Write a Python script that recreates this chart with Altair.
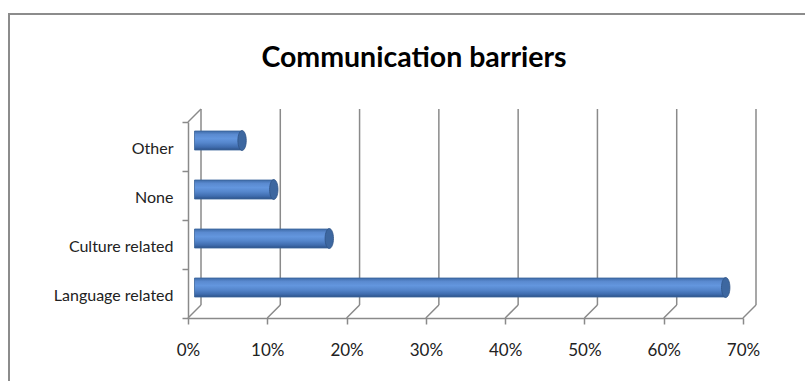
import altair as alt
import pandas as pd

# ---- data ----
categories = ["Other", "None", "Culture related", "Language related"]
shares = [0.06, 0.10, 0.17, 0.67]
tick_values = [0, 0.1, 0.2, 0.3, 0.4, 0.5, 0.6, 0.7]
title_text = "Communication barriers"

# ---- style ----
W, H = 555, 196
DX, DY = 13, -13
FONT = "Lato"
GRID = "#8a8a8a"
TXT = "#222222"

bars_df = pd.DataFrame({"category": categories, "share": shares})
ticks_df = pd.DataFrame({"v": tick_values})
one_df = pd.DataFrame({"v": [0]})

xscale = alt.Scale(domain=[0, 0.7], nice=False, zero=True)
yscale = alt.Scale(domain=categories, paddingInner=0, paddingOuter=0)

xaxis = alt.Axis(
    values=tick_values, format=".0%", title=None, grid=False,
    domainColor=GRID, domainWidth=1.5, tickColor=GRID, tickWidth=1.5,
    tickSize=6, labelPadding=18, labelFont=FONT, labelFontSize=17,
    labelColor=TXT, labelFlush=False,
)
yaxis = alt.Axis(
    title=None, grid=False, tickBand="extent",
    domainColor=GRID, domainWidth=1.5, tickColor=GRID, tickWidth=1.5,
    tickSize=6, labelPadding=9, labelFont=FONT, labelFontSize=16,
    labelColor=TXT, labelOffset=2,
)

back = alt.Chart(ticks_df).mark_rule(
    color=GRID, strokeWidth=1.5, xOffset=DX, yOffset=DY, y2Offset=DY
).encode(
    x=alt.X("v:Q", scale=xscale, axis=xaxis),
    y=alt.value(0),
    y2=alt.value(H),
)

frame_left = alt.Chart(one_df).mark_rule(color="#8c8c8c", strokeWidth=2).encode(
    x=alt.value(-179), y=alt.value(-109), y2=alt.value(H + 70)
)
frame_top = alt.Chart(one_df).mark_rule(color="#8c8c8c", strokeWidth=2).encode(
    x=alt.value(-180), x2=alt.value(W + 70), y=alt.value(-108)
)

diag_path = "M0,0L1,-1"
floor_diag = alt.Chart(ticks_df).mark_point(
    shape=diag_path, size=676, filled=False, color=GRID, strokeWidth=1.5, opacity=1
).encode(x=alt.X("v:Q", scale=xscale, axis=xaxis), y=alt.value(H))

top_diag = alt.Chart(one_df).mark_point(
    shape=diag_path, size=676, filled=False, color=GRID, strokeWidth=1.5, opacity=1
).encode(x=alt.X("v:Q", scale=xscale, axis=xaxis), y=alt.value(0))

grad = alt.Gradient(
    gradient="linear",
    x1=0, x2=0, y1=0, y2=1,
    stops=[
        alt.GradientStop(offset=0, color="#3e6ba8"),
        alt.GradientStop(offset=0.18, color="#5a8ad0"),
        alt.GradientStop(offset=0.4, color="#6396de"),
        alt.GradientStop(offset=0.62, color="#5586cc"),
        alt.GradientStop(offset=0.85, color="#3f6cae"),
        alt.GradientStop(offset=1, color="#2d5288"),
    ],
)

bars = alt.Chart(bars_df).mark_bar(
    fill=grad, stroke="#3a659c", strokeWidth=0.8, size=19,
    xOffset=6.5, x2Offset=6.5, yOffset=-6,
).encode(
    x=alt.X("share:Q", scale=xscale, axis=xaxis),
    y=alt.Y("category:N", scale=yscale, sort=categories, axis=yaxis),
)

caps = alt.Chart(bars_df).mark_point(
    shape="M0,-1A0.42,1 0 1,1 0,1A0.42,1 0 1,1 0,-1Z",
    size=400, filled=True, fill="#3d67a0", stroke="#2e5385", strokeWidth=0.8,
    opacity=1, xOffset=6.5, yOffset=-6,
).encode(
    x=alt.X("share:Q", scale=xscale, axis=xaxis),
    y=alt.Y("category:N", scale=yscale, sort=categories, axis=yaxis),
)

title = alt.Chart(one_df).mark_text(
    text=title_text, font=FONT, fontSize=28.5, fontWeight="bold",
    align="center", baseline="alphabetic", color="#000000",
).encode(x=alt.value(226), y=alt.value(-55))

chart = alt.layer(
    back, frame_left, frame_top, floor_diag, top_diag, bars, caps, title
).properties(
    width=W, height=H,
    autosize=alt.AutoSizeParams(type="none"),
    padding={"left": 188, "top": 122, "right": 62, "bottom": 63},
    background="white",
).configure_view(stroke=None)

chart.save("out.html", embed_options={"renderer": "svg", "actions": False})
